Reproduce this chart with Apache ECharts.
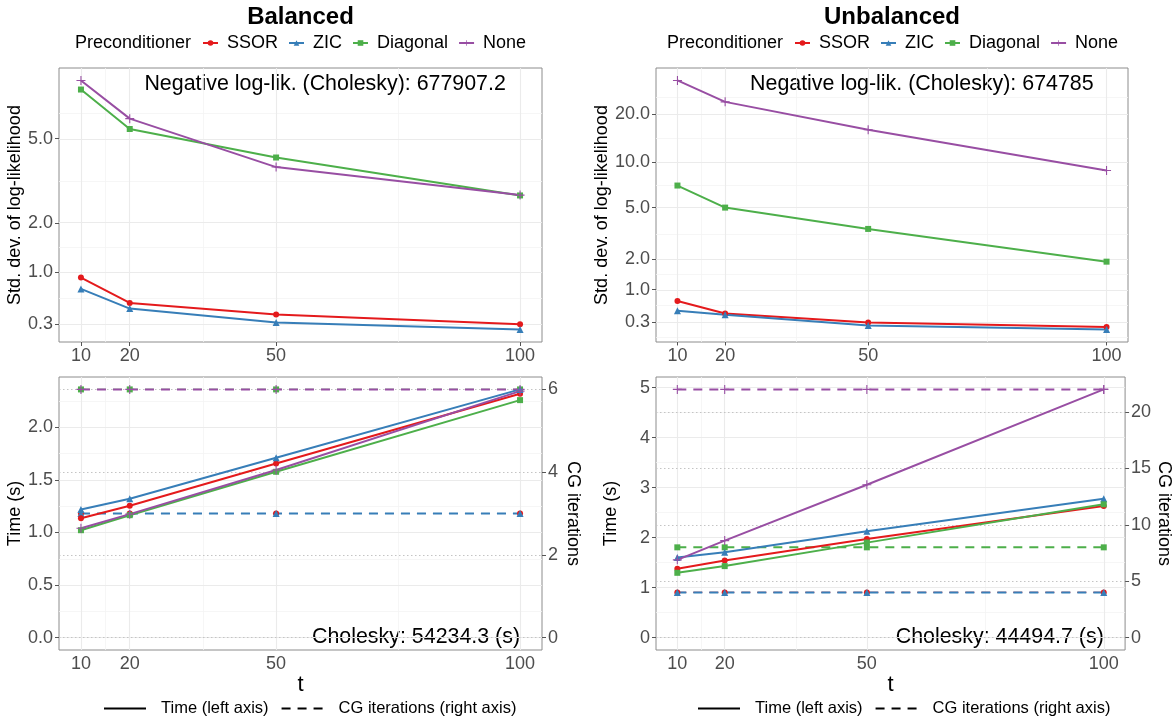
<!DOCTYPE html>
<html>
<head>
<meta charset="utf-8">
<title>Preconditioner comparison</title>
<script src="https://cdn.jsdelivr.net/npm/echarts@6/dist/echarts.min.js"></script>
<style>
  html, body { margin: 0; padding: 0; background: #fff; }
  #chart { width: 1174px; height: 725px; }
</style>
</head>
<body>
<div id="chart"></div>
<script>
const FONT = '"Liberation Sans", Arial, Helvetica, sans-serif';

const tValues = [10, 20, 50, 100];
const tTicks = [10, 20, 50, 100];
const tMinor = [15, 35, 75];
const preconditioners = ["SSOR", "ZIC", "Diagonal", "None"];
const colors = ["#E41A1C", "#377EB8", "#4DAF4A", "#984EA3"];

// std. dev. of log-likelihood
const sdBalSSOR = [0.91, 0.55, 0.41, 0.3];
const sdBalZIC = [0.74, 0.48, 0.32, 0.245];
const sdBalDiagonal = [8.0, 5.5, 4.14, 2.76];
const sdBalNone = [8.7, 6.08, 3.75, 2.77];

const sdUnbSSOR = [0.72, 0.455, 0.29, 0.215];
const sdUnbZIC = [0.51, 0.43, 0.24, 0.173];
const sdUnbDiagonal = [7.06, 5.0, 3.51, 1.91];
const sdUnbNone = [31.9, 23.7, 16.0, 8.86];

// time (s)
const timeBalSSOR = [1.136, 1.254, 1.657, 2.321];
const timeBalZIC = [1.219, 1.321, 1.711, 2.362];
const timeBalDiagonal = [1.022, 1.165, 1.578, 2.26];
const timeBalNone = [1.041, 1.175, 1.595, 2.346];

const timeUnbSSOR = [1.376, 1.541, 1.974, 2.632];
const timeUnbZIC = [1.601, 1.709, 2.127, 2.778];
const timeUnbDiagonal = [1.296, 1.43, 1.9, 2.666];
const timeUnbNone = [1.555, 1.94, 3.057, 4.965];

// CG iterations
const cgBalSSOR = [3, 3, 3, 3];
const cgBalZIC = [3, 3, 3, 3];
const cgBalDiagonal = [6, 6, 6, 6];
const cgBalNone = [6, 6, 6, 6];

const cgUnbSSOR = [4, 4, 4, 4];
const cgUnbZIC = [4, 4, 4, 4];
const cgUnbDiagonal = [8, 8, 8, 8];
const cgUnbNone = [22, 22, 22, 22];

// tick labels and minor grid lines
const sdTicksBal = [0.3, 1, 2, 5];
const sdMinorBal = [0.61, 1.45, 3.24, 6.4];
const sdTicksUnb = [0.3, 1, 2, 5, 10, 20];
const sdMinorUnb = [0.047, 0.61, 1.45, 3.24, 7.12, 14.2, 25.2];
const timeTicksBal = [0, 0.5, 1, 1.5, 2];
const timeMinorBal = [0.25, 0.75, 1.25, 1.75, 2.25];
const cgTicksBal = [0, 2, 4, 6];
const timeTicksUnb = [0, 1, 2, 3, 4, 5];
const timeMinorUnb = [0.5, 1.5, 2.5, 3.5, 4.5];
const cgTicksUnb = [0, 5, 10, 15, 20];

const panels = [
  {
    title: "Balanced", nll: "677907.2", chol: "54234.3",
    sd: [sdBalSSOR, sdBalZIC, sdBalDiagonal, sdBalNone],
    time: [timeBalSSOR, timeBalZIC, timeBalDiagonal, timeBalNone],
    cg: [cgBalSSOR, cgBalZIC, cgBalDiagonal, cgBalNone],
    sdTicks: sdTicksBal, sdMinor: sdMinorBal,
    timeTicks: timeTicksBal, timeMinor: timeMinorBal, timeDigits: 1, cgTicks: cgTicksBal,
  },
  {
    title: "Unbalanced", nll: "674785", chol: "44494.7",
    sd: [sdUnbSSOR, sdUnbZIC, sdUnbDiagonal, sdUnbNone],
    time: [timeUnbSSOR, timeUnbZIC, timeUnbDiagonal, timeUnbNone],
    cg: [cgUnbSSOR, cgUnbZIC, cgUnbDiagonal, cgUnbNone],
    sdTicks: sdTicksUnb, sdMinor: sdMinorUnb,
    timeTicks: timeTicksUnb, timeMinor: timeMinorUnb, timeDigits: 0, cgTicks: cgTicksUnb,
  },
];

// layout (px)
const colLeft = [59, 656];
const colWidth = [483, 472];
const topRow = { top: 68, height: 274 };
const bottomRow = { top: 377, height: 273 };
const leftNameGap = [28, 36];
const rightNameGap = [22, 19];

const PLUS = "path://M4.4,0H5.6V4.4H10V5.6H5.6V10H4.4V5.6H0V4.4H4.4Z";
const symbols = ["circle", "triangle", "rect", PLUS];
const symbolSizes = [6, 7, 6, 9];

const expand = (lo, hi) => {
  const pad = (hi - lo) * 0.05;
  return [lo - pad, hi + pad];
};

const labelStyle = { color: "#4D4D4D", fontSize: 18, fontFamily: FONT };
const nameStyle = { color: "#000", fontSize: 18, fontFamily: FONT };
const tickStyle = { show: true, length: 4, lineStyle: { color: "#555", width: 1 } };

const majorLine = { color: "#EBEBEB", width: 1.1, type: "solid" };
const minorLine = { color: "#F4F4F4", width: 0.8, type: "solid" };
const dottedLine = { color: "#C4C4C4", width: 1, type: [1.5, 2.5] };

function gridLines(xi, yi, xMajor, xMinor, yMajor, yMinor) {
  const data = [
    ...yMinor.map((v) => ({ yAxis: v, lineStyle: minorLine })),
    ...xMinor.map((v) => ({ xAxis: v, lineStyle: minorLine })),
    ...yMajor.map((v) => ({ yAxis: v, lineStyle: majorLine })),
    ...xMajor.map((v) => ({ xAxis: v, lineStyle: majorLine })),
  ];
  return {
    type: "line", data: [], xAxisIndex: xi, yAxisIndex: yi, silent: true, z: 1,
    markLine: { silent: true, z: 1, symbol: ["none", "none"], label: { show: false }, animation: false, data },
  };
}

// under: the series is fully hidden below another one with the same values
function dataSeries(i, values, xi, yi, dashed, transform, under) {
  return {
    type: "line", name: preconditioners[i], xAxisIndex: xi, yAxisIndex: yi, z: 3,
    data: tValues.map((t, j) => [t, transform ? Math.log1p(values[j]) : values[j]]),
    symbol: symbols[i], symbolSize: symbolSizes[i], showSymbol: true,
    itemStyle: { color: colors[i] },
    lineStyle: { color: colors[i], width: under ? 1.2 : 2, type: dashed ? [9, 7] : "solid" },
    emphasis: { disabled: true }, silent: true,
  };
}

const grids = [];
const xAxes = [];
const yAxes = [];
const series = [];

// top row: std. dev. (log1p scale)
panels.forEach((p, c) => {
  grids[c] = { left: colLeft[c], width: colWidth[c], top: topRow.top, height: topRow.height,
    show: true, borderColor: "#8C8C8C", borderWidth: 1 };
  const all = p.sd.flat().map(Math.log1p);
  const range = expand(Math.min(...all), Math.max(...all));
  const ticks = p.sdTicks.map(Math.log1p);
  yAxes[c] = {
    type: "value", gridIndex: c, min: range[0], max: range[1],
    axisLine: { show: false }, splitLine: { show: false },
    axisTick: { ...tickStyle, customValues: ticks },
    axisLabel: { ...labelStyle, customValues: ticks, margin: 6, formatter: (v) => Math.expm1(v).toFixed(1) },
    name: "Std. dev. of log-likelihood", nameLocation: "middle", nameGap: leftNameGap[c], nameTextStyle: nameStyle,
  };
  series.push(gridLines(c, c, tTicks, tMinor, ticks, p.sdMinor.map(Math.log1p)));
  p.sd.forEach((vals, i) => series.push(dataSeries(i, vals, c, c, false, true, false)));
});

// bottom row: time (left) + CG iterations (right)
panels.forEach((p, c) => {
  const g = 2 + c;
  const yl = 2 + 2 * c;
  const yr = 3 + 2 * c;
  grids[g] = { left: colLeft[c], width: colWidth[c], top: bottomRow.top, height: bottomRow.height,
    show: true, borderColor: "#8C8C8C", borderWidth: 1 };
  const tMax = Math.max(...p.time.flat());
  const cgMax = Math.max(...p.cg.flat());
  const k = cgMax / tMax;
  const range = expand(0, tMax);
  yAxes[yl] = {
    type: "value", gridIndex: g, position: "left", min: range[0], max: range[1],
    axisLine: { show: false }, splitLine: { show: false },
    axisTick: { ...tickStyle, customValues: p.timeTicks },
    axisLabel: { ...labelStyle, customValues: p.timeTicks, margin: 6, formatter: (v) => v.toFixed(p.timeDigits) },
    name: "Time (s)", nameLocation: "middle", nameGap: leftNameGap[c], nameTextStyle: nameStyle,
  };
  yAxes[yr] = {
    type: "value", gridIndex: g, position: "right", min: range[0] * k, max: range[1] * k,
    axisLine: { show: false }, splitLine: { show: false },
    axisTick: { ...tickStyle, customValues: p.cgTicks },
    axisLabel: { ...labelStyle, customValues: p.cgTicks, margin: 6, formatter: (v) => String(v) },
    name: "CG iterations", nameLocation: "middle", nameRotate: -90, nameGap: rightNameGap[c], nameTextStyle: nameStyle,
  };
  series.push(gridLines(g, yl, tTicks, tMinor, p.timeTicks, p.timeMinor));
  series.push({
    type: "line", data: [], xAxisIndex: g, yAxisIndex: yr, silent: true, z: 1,
    markLine: { silent: true, z: 1, symbol: ["none", "none"], label: { show: false }, animation: false,
      data: p.cgTicks.map((v) => ({ yAxis: v, lineStyle: dottedLine })) },
  });
  p.cg.forEach((vals, i) => {
    const hidden = p.cg.some((other, j) => j > i && other.every((v, n) => v === vals[n]));
    series.push(dataSeries(i, vals, g, yr, true, false, hidden));
  });
  p.time.forEach((vals, i) => series.push(dataSeries(i, vals, g, yl, false, false, false)));
});

// dummy series for the line-type legend
series.push({ type: "line", name: "Time (left axis)", data: [], xAxisIndex: 2, yAxisIndex: 2, symbol: "none",
  itemStyle: { color: "#000" }, lineStyle: { color: "#000", width: 2, type: "solid" } });
series.push({ type: "line", name: "CG iterations (right axis)", data: [], xAxisIndex: 2, yAxisIndex: 2, symbol: "none",
  itemStyle: { color: "#000" }, lineStyle: { color: "#000", width: 2, type: [9, 7] } });

[0, 1, 2, 3].forEach((g) => {
  xAxes[g] = {
    type: "value", gridIndex: g, min: 5.5, max: 104.5,
    axisLine: { show: false }, splitLine: { show: false },
    axisTick: { ...tickStyle, customValues: tTicks },
    axisLabel: { ...labelStyle, customValues: tTicks, margin: 5 },
    name: g >= 2 ? "t" : "", nameLocation: "middle", nameGap: 21,
    nameTextStyle: { color: "#000", fontSize: 22, fontFamily: FONT },
  };
});

const topLegend = (left) => ({
  left, top: 34, padding: 0, data: preconditioners, selectedMode: false,
  itemWidth: 15, itemHeight: 7, itemGap: 10,
  textStyle: { fontSize: 18, color: "#000", fontFamily: FONT, padding: [0, 0, 0, 4] },
});
const bottomLegend = (left) => ({
  left, top: 700, padding: 0, data: ["Time (left axis)", "CG iterations (right axis)"], selectedMode: false,
  itemWidth: 42, itemHeight: 14, itemGap: 12, itemStyle: { opacity: 0 },
  textStyle: { fontSize: 16.5, color: "#000", fontFamily: FONT, padding: [0, 0, 0, 10] },
});

const option = {
  animation: false,
  textStyle: { fontFamily: FONT },
  title: panels.map((p, c) => ({
    text: p.title, left: colLeft[c] + colWidth[c] / 2, textAlign: "center", top: 5, padding: 0,
    textStyle: { fontSize: 24, fontWeight: "bold", color: "#000", fontFamily: FONT },
  })),
  legend: [topLegend(202), topLegend(794), bottomLegend(103), bottomLegend(697)],
  grid: grids,
  xAxis: xAxes,
  yAxis: yAxes,
  series,
};

const chart = echarts.init(document.getElementById("chart"));
chart.setOption(option);

// annotations: top text right-aligned like hjust = 1.1 at the panel edge, bottom text at (t = 100, time = 0)
const annoSize = 21.4;
const ctx = document.createElement("canvas").getContext("2d");
ctx.font = `${annoSize}px ${FONT}`;
const graphics = [];
panels.forEach((p, c) => {
  graphics.push({ type: "text", x: [75, 667][c], y: 43,
    style: { text: "Preconditioner", fontSize: 18, fontFamily: FONT, fill: "#000", align: "left", verticalAlign: "middle" } });
  const nllText = `Negative log-lik. (Cholesky): ${p.nll}`;
  const w = ctx.measureText(nllText).width;
  graphics.push({ type: "text", x: colLeft[c] + colWidth[c] - 0.1 * w, y: topRow.top + 16,
    style: { text: nllText, fontSize: annoSize, fontFamily: FONT, fill: "#000", align: "right", verticalAlign: "middle" } });
  const [px, py] = chart.convertToPixel({ xAxisIndex: 2 + c, yAxisIndex: 2 + 2 * c }, [100, 0]);
  graphics.push({ type: "text", x: px, y: py,
    style: { text: `Cholesky: ${p.chol} (s)`, fontSize: annoSize, fontFamily: FONT, fill: "#000", align: "right", verticalAlign: "middle" } });
});
chart.setOption({ graphic: graphics });

window.addEventListener("resize", () => chart.resize());
</script>
</body>
</html>
